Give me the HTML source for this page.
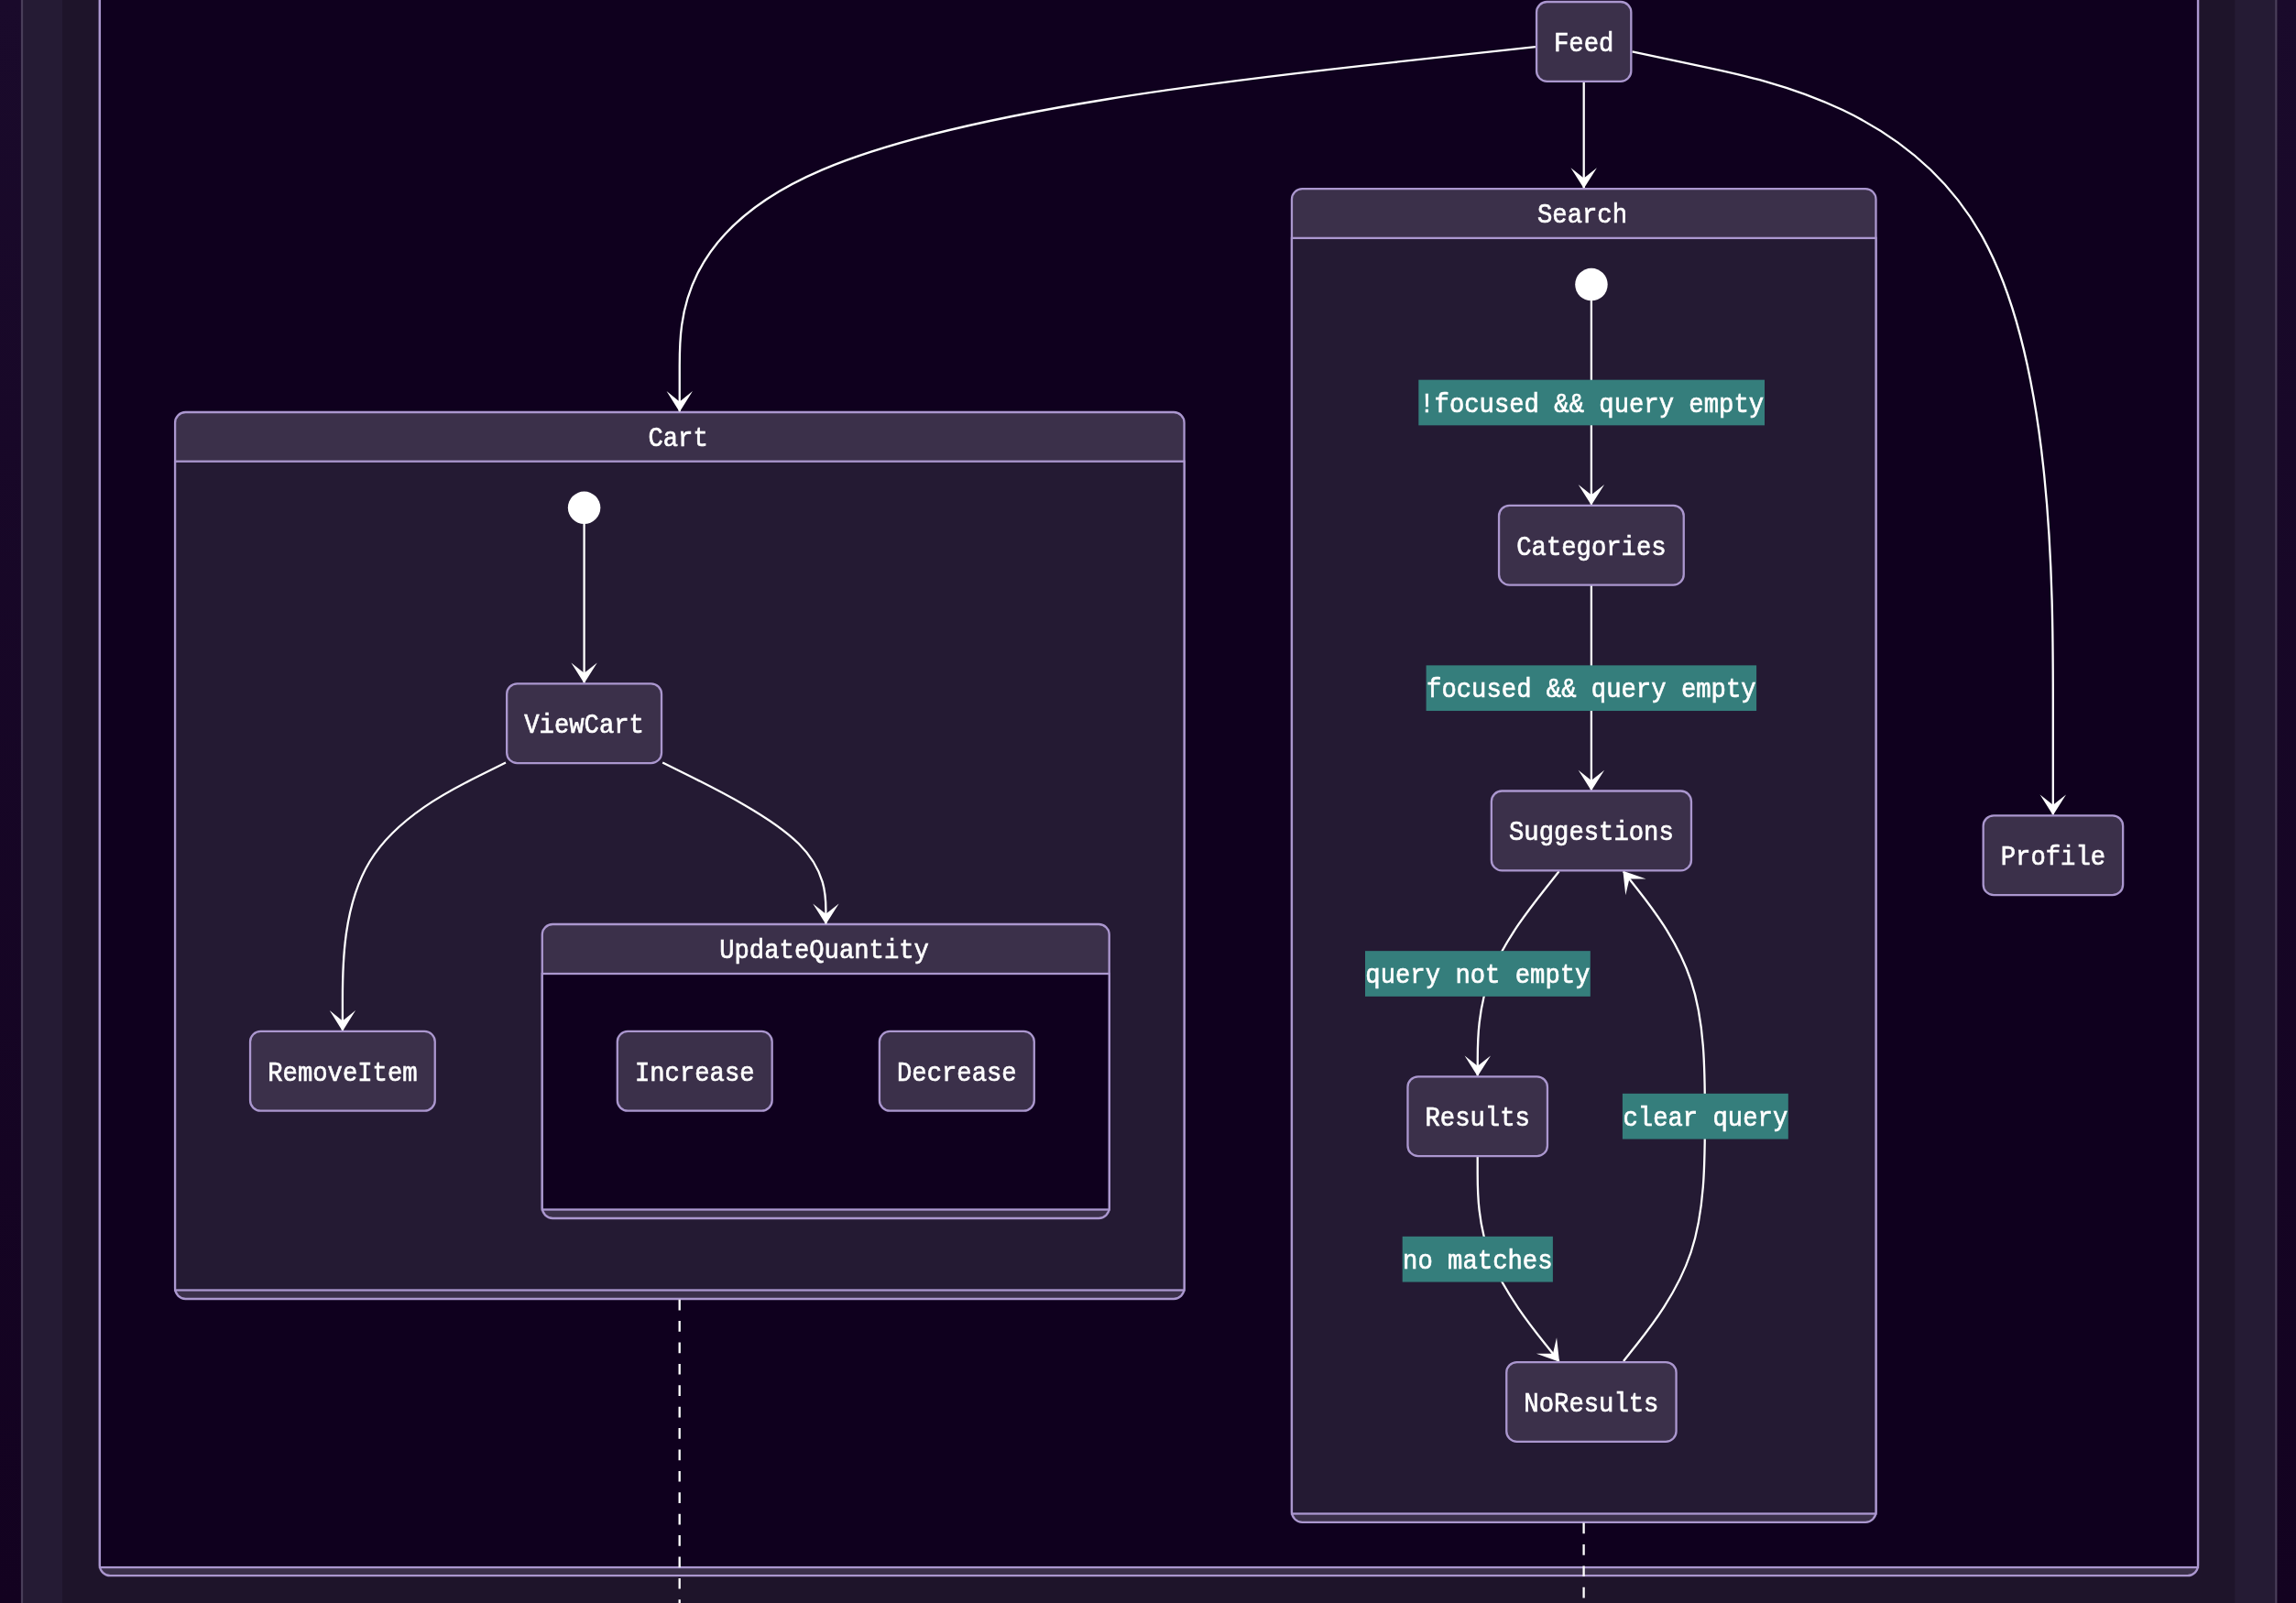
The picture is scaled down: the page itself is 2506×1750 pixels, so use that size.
<!DOCTYPE html>
<html><head><meta charset="utf-8"><title>State diagram</title>
<style>
html,body{margin:0;padding:0;}
body{width:2506px;height:1750px;overflow:hidden;background:linear-gradient(180deg,#1a0a2b 0%,#130220 100%);}
svg{display:block;position:absolute;left:0;top:0;will-change:transform;}
text{font-family:"Liberation Mono",monospace;font-size:27.25px;fill:#ffffff;stroke:#ffffff;stroke-width:0.6;}
.n{fill:#3b304a;stroke:#ab97cf;stroke-width:2.3;}
.e{fill:none;stroke:#ffffff;stroke-width:2.3;}
.a{fill:#ffffff;stroke:none;}
</style></head><body>
<svg width="2506" height="1750" viewBox="0 0 2506 1750">
<rect x="24" y="-50" width="2460.3" height="1850" fill="#251b34" stroke="#493e59" stroke-width="2.2"/>
<rect x="68.1" y="-50" width="2371.1" height="1850" fill="#1e142a"/>
<rect class="n" x="108.9" y="-200" width="2290.1" height="1920.2" rx="11.4"/>
<rect x="108.9" y="-150" width="2290.1" height="1861.1" fill="#0f001e" stroke="#ab97cf" stroke-width="2.3"/>
<rect class="n" x="191.1" y="450" width="1101.45" height="968" rx="11.4"/>
<rect x="191.1" y="503.7" width="1101.45" height="904.8" fill="#241a33" stroke="#ab97cf" stroke-width="2.3"/>
<text transform="translate(740.12,487.15) scale(1,1.11)" text-anchor="middle">Cart</text>
<rect class="n" x="1409.95" y="206.1" width="637.55" height="1455.7" rx="11.4"/>
<rect x="1409.95" y="259.9" width="637.55" height="1392.6" fill="#241a33" stroke="#ab97cf" stroke-width="2.3"/>
<text transform="translate(1727.02,243.3) scale(1,1.11)" text-anchor="middle">Search</text>
<rect class="n" x="591.8" y="1009" width="618.9" height="321" rx="11.4"/>
<rect x="591.8" y="1063" width="618.9" height="257.5" fill="#0f001e" stroke="#ab97cf" stroke-width="2.3"/>
<text transform="translate(899.55,1046.3) scale(1,1.11)" text-anchor="middle">UpdateQuantity</text>
<path class="e" d="M1675.9,51.16 L1520.21,68.13 C1364.52,85.1 1053.13,119.05 897.44,185.34 C741.75,251.63 741.75,350.27 741.75,399.58 L741.75,448.9"/>
<path class="a" transform="translate(741.75,449.7) rotate(90)" d="M0,0 L-22.6,14.2 L-11.3,0 L-22.6,-14.2 Z"/>
<path class="e" d="M1728.7,89 L1728.7,205"/>
<path class="a" transform="translate(1728.7,205.8) rotate(90)" d="M0,0 L-22.6,14.2 L-11.3,0 L-22.6,-14.2 Z"/>
<path class="e" d="M1781.5,56.49 L1858.05,72.58 C1934.6,88.66 2087.7,120.83 2164.25,259.63 C2240.8,398.43 2240.8,643.87 2240.8,766.58 L2240.8,889.3"/>
<path class="a" transform="translate(2240.8,890.1) rotate(90)" d="M0,0 L-22.6,14.2 L-11.3,0 L-22.6,-14.2 Z"/>
<path class="e" d="M637.6,560 L637.6,745.3"/>
<path class="a" transform="translate(637.6,746.1) rotate(90)" d="M0,0 L-22.6,14.2 L-11.3,0 L-22.6,-14.2 Z"/>
<path class="e" d="M552,832.45 L522.32,847.28 C492.63,862.1 433.27,891.75 403.58,940.49 C373.9,989.23 373.9,1057.07 373.9,1090.98 L373.9,1124.9"/>
<path class="a" transform="translate(373.9,1125.7) rotate(90)" d="M0,0 L-22.6,14.2 L-11.3,0 L-22.6,-14.2 Z"/>
<path class="e" d="M723.2,832.44 L752.9,847.26 C782.6,862.09 842,891.75 871.7,921.04 C901.4,950.33 901.4,979.27 901.4,993.73 L901.4,1008.2"/>
<path class="a" transform="translate(901.4,1009) rotate(90)" d="M0,0 L-22.6,14.2 L-11.3,0 L-22.6,-14.2 Z"/>
<path class="e" d="M1736.9,316 L1736.9,550.8"/>
<path class="a" transform="translate(1736.9,551.6) rotate(90)" d="M0,0 L-22.6,14.2 L-11.3,0 L-22.6,-14.2 Z"/>
<path class="e" d="M1736.9,639 L1736.9,862.5"/>
<path class="a" transform="translate(1736.9,863.3) rotate(90)" d="M0,0 L-22.6,14.2 L-11.3,0 L-22.6,-14.2 Z"/>
<path class="e" d="M1701.63,951.3 L1686.84,969.92 C1672.05,988.53 1642.48,1025.77 1627.66,1062.93 C1612.85,1100.1 1612.8,1137.2 1612.77,1155.75 L1612.75,1174.3"/>
<path class="a" transform="translate(1612.75,1175.1) rotate(90.08)" d="M0,0 L-22.6,14.2 L-11.3,0 L-22.6,-14.2 Z"/>
<path class="e" d="M1612.7,1263.1 L1612.72,1281.7 C1612.73,1300.3 1612.77,1337.5 1627.57,1374.66 C1642.37,1411.82 1671.95,1448.93 1686.74,1467.49 L1701.52,1486.05"/>
<path class="a" transform="translate(1702.02,1486.68) rotate(51.45)" d="M0,0 L-22.6,14.2 L-11.3,0 L-22.6,-14.2 Z"/>
<path class="e" d="M1771.99,1486.05 L1786.66,1467.49 C1801.33,1448.93 1830.66,1411.82 1845.56,1367.26 C1860.45,1322.7 1860.9,1270.7 1860.9,1218.75 C1860.9,1166.8 1860.45,1114.9 1845.54,1070.33 C1830.64,1025.77 1801.28,988.53 1786.59,969.92 L1771.91,951.3"/>
<path class="a" transform="translate(1771.42,950.67) rotate(-128.26)" d="M0,0 L-22.6,14.2 L-11.3,0 L-22.6,-14.2 Z"/>
<path class="e" stroke-dasharray="11.7 11.7" d="M741.7,1418.7 L741.7,1760"/>
<path class="e" stroke-dasharray="11.7 11.7" d="M1728.6,1662.6 L1728.6,1760"/>
<circle cx="637.6" cy="554.3" r="17.75" fill="#fff"/>
<circle cx="1736.95" cy="310.6" r="17.75" fill="#fff"/>
<rect class="n" x="1677.08" y="2" width="103.24" height="86.8" rx="11.4"/>
<text transform="translate(1728.7,55.7) scale(1,1.11)" text-anchor="middle">Feed</text>
<rect class="n" x="553.16" y="746.3" width="168.88" height="86.8" rx="11.4"/>
<text transform="translate(637.6,800) scale(1,1.11)" text-anchor="middle">ViewCart</text>
<rect class="n" x="273.05" y="1125.9" width="201.7" height="86.8" rx="11.4"/>
<text transform="translate(373.9,1179.6) scale(1,1.11)" text-anchor="middle">RemoveItem</text>
<rect class="n" x="673.81" y="1125.9" width="168.88" height="86.8" rx="11.4"/>
<text transform="translate(758.25,1179.6) scale(1,1.11)" text-anchor="middle">Increase</text>
<rect class="n" x="959.91" y="1125.9" width="168.88" height="86.8" rx="11.4"/>
<text transform="translate(1044.35,1179.6) scale(1,1.11)" text-anchor="middle">Decrease</text>
<rect class="n" x="1636.05" y="551.8" width="201.7" height="86.8" rx="11.4"/>
<text transform="translate(1736.9,605.5) scale(1,1.11)" text-anchor="middle">Categories</text>
<rect class="n" x="1627.85" y="863.5" width="218.11" height="86.8" rx="11.4"/>
<text transform="translate(1736.9,917.2) scale(1,1.11)" text-anchor="middle">Suggestions</text>
<rect class="n" x="1536.47" y="1175.3" width="152.47" height="86.8" rx="11.4"/>
<text transform="translate(1612.7,1229) scale(1,1.11)" text-anchor="middle">Results</text>
<rect class="n" x="1644.26" y="1487.05" width="185.29" height="86.8" rx="11.4"/>
<text transform="translate(1736.9,1540.75) scale(1,1.11)" text-anchor="middle">NoResults</text>
<rect class="n" x="2164.66" y="890.3" width="152.47" height="86.8" rx="11.4"/>
<text transform="translate(2240.9,944) scale(1,1.11)" text-anchor="middle">Profile</text>
<rect x="1548.3" y="414.65" width="377.7" height="49.7" fill="#357e7c"/>
<text transform="translate(1737.15,449.6) scale(1,1.11)" text-anchor="middle">!focused &amp;&amp; query empty</text>
<rect x="1556.6" y="726.35" width="360.5" height="49.7" fill="#357e7c"/>
<text transform="translate(1736.85,761.3) scale(1,1.11)" text-anchor="middle">focused &amp;&amp; query empty</text>
<rect x="1490" y="1038.15" width="245.8" height="49.7" fill="#357e7c"/>
<text transform="translate(1612.9,1073.1) scale(1,1.11)" text-anchor="middle">query not empty</text>
<rect x="1770.9" y="1193.85" width="180.9" height="49.7" fill="#357e7c"/>
<text transform="translate(1861.35,1228.8) scale(1,1.11)" text-anchor="middle">clear query</text>
<rect x="1530.7" y="1349.85" width="164.2" height="49.7" fill="#357e7c"/>
<text transform="translate(1612.8,1384.8) scale(1,1.11)" text-anchor="middle">no matches</text>
</svg></body></html>
